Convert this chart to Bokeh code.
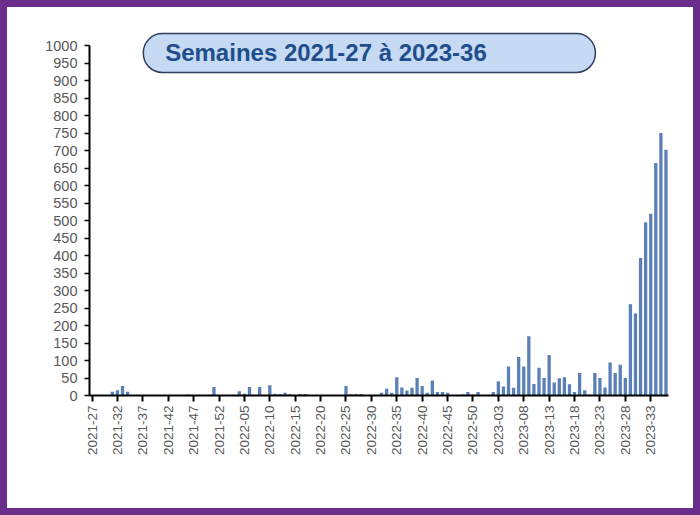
from math import pi
from bokeh.plotting import figure
from bokeh.models import FixedTicker, BoxAnnotation, Label, Range1d, ColumnDataSource
from bokeh.embed import file_html
from bokeh.resources import INLINE

# Categories: ISO weeks 2021-27 .. 2023-36
weeks = ([f"2021-{w:02d}" for w in range(27, 53)]
         + [f"2022-{w:02d}" for w in range(1, 53)]
         + [f"2023-{w:02d}" for w in range(1, 37)])

# Weekly counts
cases_2021 = [0, 0, 0, 0, 11, 15, 27, 11, 0, 0,
              0, 0, 0, 0, 0, 0, 0, 0, 0, 3,
              0, 0, 0, 0, 24, 0]
cases_2022 = [0, 0, 0, 12, 5, 24, 0, 24, 0, 29,
              5, 4, 8, 4, 0, 4, 4, 0, 0, 0,
              0, 0, 0, 0, 27, 4, 4, 4, 0, 0,
              0, 8, 19, 8, 52, 23, 14, 22, 50, 27,
              8, 43, 10, 10, 8, 0, 0, 3, 10, 3,
              10, 0]
cases_2023 = [0, 10, 41, 26, 83, 22, 110, 83, 169, 33,
              79, 50, 116, 37, 49, 52, 32, 10, 64, 15,
              3, 64, 50, 23, 94, 64, 88, 50, 261, 234,
              393, 495, 519, 664, 750, 702]
cases = cases_2021 + cases_2022 + cases_2023

tick_positions = list(range(0, len(weeks), 5))
y_ticks = list(range(0, 1001, 50))
title_text = "Semaines 2021-27 à 2023-36"

src = ColumnDataSource(dict(x=list(range(len(weeks))), top=cases, week=weeks))

p = figure(width=686, height=501, output_backend="svg", toolbar_location=None,
           x_range=Range1d(-0.5, len(weeks) - 0.5), y_range=Range1d(0, 1040),
           min_border_left=82, min_border_right=39, min_border_top=24,
           min_border_bottom=127)
p.styles = {"border": "7px solid #6B2D8B", "box-sizing": "content-box"}
p.outline_line_color = None
p.xgrid.visible = False
p.ygrid.visible = False
p.background_fill_color = "white"
p.border_fill_color = "white"

p.vbar(x="x", top="top", width=0.65, source=src, fill_color="#5B80B8",
       line_color=None)

FONT = "Liberation Sans"
LABEL_COLOR = "#595959"

xa = p.xaxis[0]
xa.ticker = FixedTicker(ticks=tick_positions)
xa.major_label_overrides = {i: weeks[i] for i in tick_positions}
xa.major_label_orientation = pi / 2
xa.minor_tick_line_color = None
xa.major_tick_in = 0
xa.major_tick_out = 6
xa.major_tick_line_width = 2
xa.axis_line_color = "black"
xa.axis_line_width = 2
xa.major_label_text_font = FONT
xa.major_label_text_font_size = "13.5px"
xa.major_label_text_color = LABEL_COLOR
xa.major_label_standoff = 4

ya = p.yaxis[0]
ya.ticker = FixedTicker(ticks=y_ticks)
ya.bounds = (0, 1000)
ya.minor_tick_line_color = None
ya.major_tick_in = 0
ya.major_tick_out = 5
ya.major_tick_line_width = 1.5
ya.axis_line_color = "black"
ya.axis_line_width = 2
ya.major_label_text_font = FONT
ya.major_label_text_font_size = "14.5px"
ya.major_label_text_color = LABEL_COLOR
ya.major_label_standoff = 7

pill = BoxAnnotation(left=10.1, right=99.1, bottom=923, top=1034,
                     fill_color="#C6DAF4", fill_alpha=1.0,
                     line_color="#2F3D5C", line_alpha=1.0, line_width=1.5,
                     border_radius=19)
p.add_layout(pill)

p.add_layout(Label(x=14.4, y=980, text=title_text, text_font=FONT,
                   text_font_style="bold", text_font_size="24px",
                   text_color="#1F4E8C", text_baseline="middle",
                   text_align="left"))

open("out.html", "w").write(file_html(p, INLINE))
